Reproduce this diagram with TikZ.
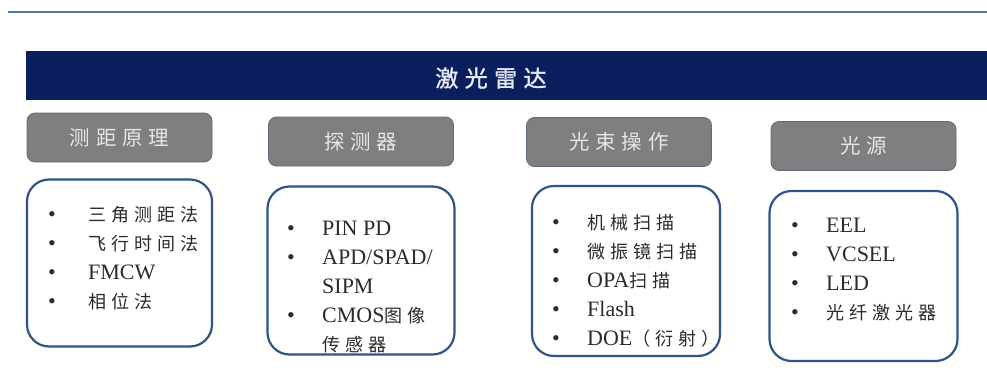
\documentclass[tikz,border=0pt]{standalone}
\usepackage{fontspec}
\setmainfont{Liberation Serif}
\newfontfamily\cjk[Scale=0.82,LetterSpace=28]{Noto Sans CJK SC}
\newfontfamily\cjkbold[Scale=0.82,LetterSpace=28,FakeBold=1.5]{Noto Sans CJK SC}
\usetikzlibrary{positioning}
\definecolor{rulec}{HTML}{4F78A6}
\definecolor{navy}{HTML}{0B1F5E}
\definecolor{headgray}{HTML}{7F7F7F}
\definecolor{headedge}{HTML}{5E6B7E}
\definecolor{headtext}{HTML}{E6E6E6}
\definecolor{titletext}{HTML}{E4EAF4}
\definecolor{boxedge}{HTML}{2E5585}
\definecolor{itemtext}{HTML}{2B2B2B}
\tikzset{
	topline/.style={draw=rulec, line width=2pt},
	banner/.style={
		rectangle,
		fill=navy,
		minimum width=961pt,
		minimum height=49pt},
	title/.style={text=titletext, font=\fontsize{28pt}{28pt}\selectfont\cjkbold},
	headbox/.style={
		rectangle,
		rounded corners=8pt,
		fill=headgray,
		draw=headedge, line width=0.8pt,
		minimum width=185pt,
		minimum height=49pt,
		text=headtext,
		font=\fontsize{25pt}{25pt}\selectfont\cjk},
	listbox/.style={
		rectangle,
		rounded corners=22pt,
		draw=boxedge, line width=2.2pt,
		fill=white,
		minimum width=187pt,
		minimum height=168pt},
	itemlist/.style={
		anchor=north west,
		inner sep=0pt,
		align=left,
		text=itemtext,
		font=\fontsize{22pt}{29pt}\selectfont},
}

\begin{document}
\begin{tikzpicture}[x=1pt,y=-1pt]
	\useasboundingbox (0,0) rectangle (987,380);
	\fill[white] (0,0) rectangle (987,380);
	\draw[topline] (8,12) -- (987,12);
	% banner
	\node[banner] (bar) at (506.5,75.5) {};
	\node[title] (title) at (491,78) {激光雷达};
	% headers
	\node[headbox] (head1) at (119.5,137.5) {测距原理};
	\node[headbox] (head2) at (361,141.5) {探测器};
	\node[headbox] (head3) at (619,142) {光束操作};
	\node[headbox] (head4) at (863.5,146) {光源};
	% boxes
	\node[listbox, minimum width=185pt, minimum height=167pt, below=16pt of head1] (box1) {};
	\node[listbox, below=19pt of head2] (box2) {};
	\node[listbox, minimum width=188pt, minimum height=170pt, below=18pt of head3, xshift=7pt] (box3) {};
	\node[listbox, minimum width=188pt, minimum height=170pt, below=19pt of head4] (box4) {};
	% lists
	\node[itemlist] (list1) at (48,200.7) {\begin{tabular}{@{}p{40pt}@{}l@{}}
		\textbullet & {\cjk 三角测距法}\\
		\textbullet & {\cjk 飞行时间法}\\
		\textbullet & FMCW\\
		\textbullet & {\cjk 相位法}
	\end{tabular}};
	\node[itemlist] (list2) at (287,214.7) {\begin{tabular}{@{}p{35pt}@{}l@{}}
		\textbullet & PIN PD\\
		\textbullet & APD/SPAD/\\
		 & SIPM\\
		\textbullet & CMOS{\cjk 图像}\\
		 & {\cjk 传感器}
	\end{tabular}};
	\node[itemlist] (list3) at (552,208.7) {\begin{tabular}{@{}p{35pt}@{}l@{}}
		\textbullet & {\cjk 机械扫描}\\
		\textbullet & {\cjk 微振镜扫描}\\
		\textbullet & OPA{\cjk 扫描}\\
		\textbullet & Flash\\
		\textbullet & DOE{\cjk （衍射）}
	\end{tabular}};
	\node[itemlist] (list4) at (791,211.7) {\begin{tabular}{@{}p{35pt}@{}l@{}}
		\textbullet & EEL\\
		\textbullet & VCSEL\\
		\textbullet & LED\\
		\textbullet & {\cjk 光纤激光器}
	\end{tabular}};
\end{tikzpicture}
\end{document}
